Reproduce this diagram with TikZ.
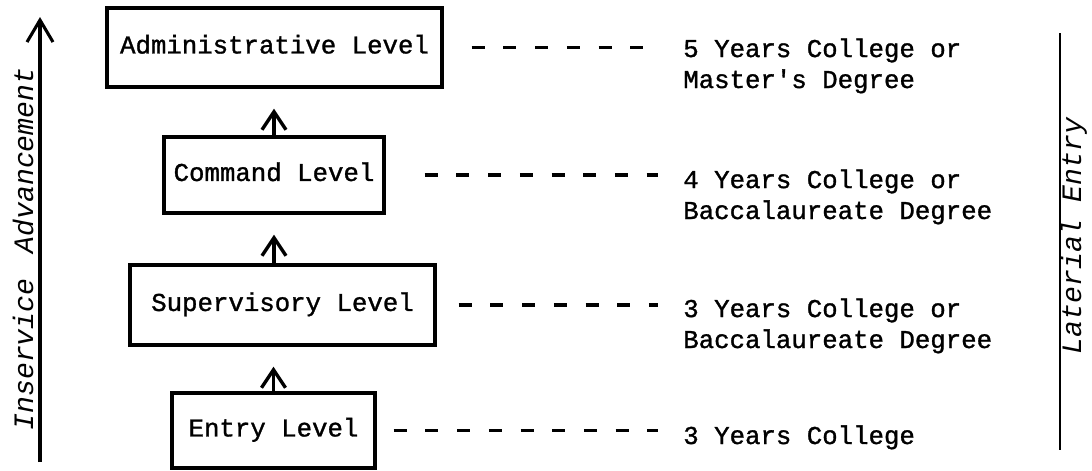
\documentclass[tikz,border=0pt]{standalone}
\usepackage{fontspec}
\setmonofont{Liberation Mono}
\newfontfamily\typer{Liberation Mono}[FakeBold=1.2]
\usetikzlibrary{arrows.meta,calc}

\tikzset{
    rank/.style={draw, line width=2.4pt, inner sep=0pt, text height=0.85em, text depth=0pt,
        font=\typer\fontsize{18.3}{22}\selectfont},
    degree/.style={align=left, anchor=base west, inner sep=0pt,
        font=\typer\fontsize{18.3}{22}\selectfont},
    leader/.style={line width=2.2pt, dash pattern=on 0.325cm off 0.4675cm},
    climb/.style={line width=2.4pt, -{Straight Barb[length=0.45cm,width=0.6cm]}, shorten >=0.5cm},
    axislabel/.style={rotate=90, anchor=base, inner sep=0pt,
        font=\ttfamily\itshape\fontsize{20}{24}\selectfont}
}

\begin{document}
\begin{tikzpicture}[x=0.025cm, y=-0.025cm]
            \useasboundingbox (0,0) rectangle (1092,470);
            % levels
            \node[rank, minimum width=8.375cm, minimum height=1.975cm] (admin) at (274.5,47.5) {Administrative Level};
            \node[rank, minimum width=5.5cm, minimum height=1.9cm] (command) at (274,175) {Command Level};
            \node[rank, minimum width=7.625cm, minimum height=2cm] (super) at (282.5,305) {Supervisory Level};
            \node[rank, minimum width=5.075cm, minimum height=1.875cm] (entry) at (273.5,430.5) {Entry Level};
            \draw[climb] (command.north) -- (command.north |- admin.south);
            \draw[climb] (super.north -| command.south) -- (command.south);
            \draw[climb] (entry.north) -- (entry.north |- super.south);
            % schooling (base anchor sits on the last line)
            \node[degree] (deg5) at (683,88) {5 Years College or\\Master's Degree};
            \node[degree] (deg4) at (683,219) {4 Years College or\\Baccalaureate Degree};
            \node[degree] (deg3b) at (683,348) {3 Years College or\\Baccalaureate Degree};
            \node[degree] (deg3) at (683,444) {3 Years College};
            \draw[leader] ($(admin.east)+(28,0)$) -- ($(admin.east -| deg5.west)+(-25,0)$);
            \draw[leader] ($(command.east)+(39,0)$) -- ($(command.east -| deg4.west)+(-25,0)$);
            \draw[leader] ($(super.east)+(22,0)$) -- ($(super.east -| deg3b.west)+(-25,0)$);
            \draw[leader] ($(entry.east)+(17,0)$) -- ($(entry.east -| deg3.west)+(-25,0)$);
            % side axes
            \coordinate (in low) at (40,462);
            \coordinate (in high) at (40,17);
            \draw[line width=2.2pt, -{Straight Barb[length=0.55cm,width=0.65cm]}] (in low) -- (in high);
            \node[axislabel] (inservice) at (33,249) {Inservice\hspace{.3em} Advancement};
            \coordinate (lat top) at (1060,33);
            \coordinate (lat bottom) at (1060,450);
            \draw[line width=1.6pt] (lat top) -- (lat bottom);
            \node[axislabel] (lateral) at (1081,236) {Laterial Entry};
        \end{tikzpicture}
\end{document}
